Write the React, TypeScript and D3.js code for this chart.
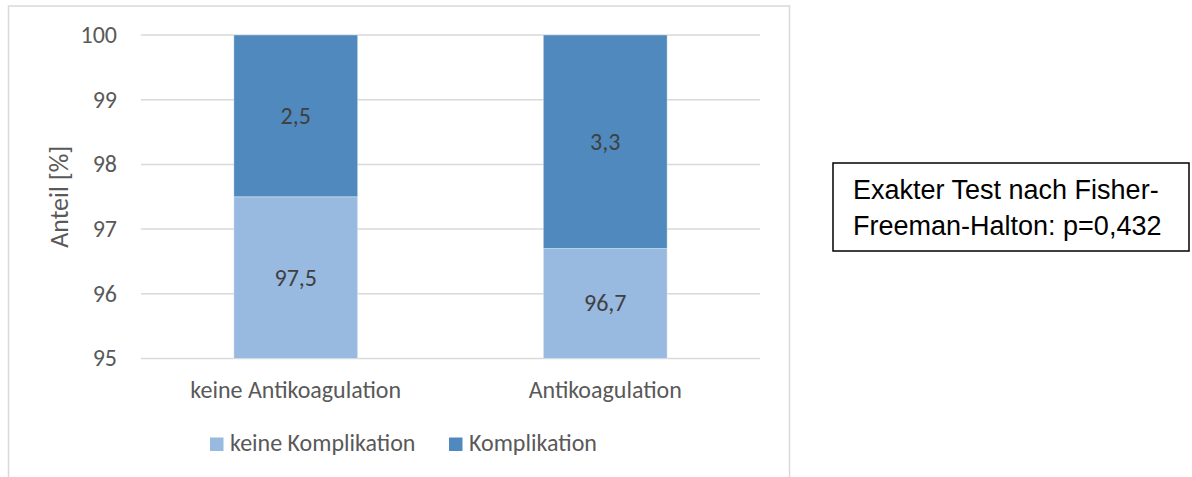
import React from "react";
import * as d3 from "d3";

// Stacked shares (%) per group
const categories = ["keine Antikoagulation", "Antikoagulation"];
const keineKomplikation = [97.5, 96.7];
const komplikation = [2.5, 3.3];
const seriesNames = ["keine Komplikation", "Komplikation"];
const seriesColors = ["#98B9E0", "#4F89BD"];
const yTicks = [95, 96, 97, 98, 99, 100];
const noteLines = ["Exakter Test nach Fisher-", "Freeman-Halton: p=0,432"];

const W = 1192;
const H = 477;
const plot = { left: 141, right: 760, top: 35, bottom: 358.5 };
const axisFont = "Calibri, Carlito, 'Open Sans', sans-serif";
const textGray = "#595959";
const fs = 24;

export default function App() {
  const x = d3
    .scaleBand<string>()
    .domain(categories)
    .range([plot.left, plot.right])
    .paddingInner(0.6)
    .paddingOuter(0.3);
  const y = d3.scaleLinear().domain([95, 100]).range([plot.bottom, plot.top]);

  const rows = categories.map((c, i) => ({
    category: c,
    keine: keineKomplikation[i],
    kompl: komplikation[i],
  }));
  const stack = d3.stack<any>().keys(["keine", "kompl"]);
  const layers = stack(rows);
  const fmt = (v: number) => v.toFixed(1).replace(".", ",");

  return (
    <svg
      width={W}
      height={H}
      style={{ position: "absolute", left: 0, top: 0, background: "#fff" }}
      fontFamily={axisFont}
    >
      {/* chart frame */}
      <rect x={8.5} y={6} width={781} height={490} fill="#fff" stroke="#d9d9d9" strokeWidth={1.5} />

      {/* gridlines and y tick labels */}
      {yTicks.map((t) => (
        <g key={t}>
          <line x1={plot.left} x2={plot.right} y1={y(t)} y2={y(t)} stroke="#d9d9d9" strokeWidth={1.5} />
          <text x={117} y={y(t)} dy="0.33em" textAnchor="end" fontSize={fs} fill={textGray}>
            {t}
          </text>
        </g>
      ))}

      {/* y axis title */}
      <text
        transform={`translate(59,${(plot.top + plot.bottom) / 2}) rotate(-90)`}
        textAnchor="middle"
        dy="0.33em"
        fontSize={26}
        fill={textGray}
      >
        Anteil [%]
      </text>

      {/* stacked bars, clipped to the axis range */}
      {layers.map((layer, li) =>
        layer.map((d, i) => {
          const y0 = Math.max(d[0], 95);
          const y1 = Math.min(d[1], 100);
          const top = y(y1);
          const bottom = y(y0);
          return (
            <g key={`${li}-${i}`}>
              <rect
                x={x(categories[i])!}
                y={top}
                width={x.bandwidth()}
                height={bottom - top}
                fill={seriesColors[li]}
                stroke="#ffffff"
                strokeOpacity={0.35}
                strokeWidth={1}
              />
              <text
                x={x(categories[i])! + x.bandwidth() / 2}
                y={(top + bottom) / 2}
                dy="0.33em"
                textAnchor="middle"
                fontSize={fs}
                fill="#404040"
              >
                {fmt(li === 0 ? keineKomplikation[i] : komplikation[i])}
              </text>
            </g>
          );
        })
      )}

      {/* category labels */}
      {categories.map((c) => (
        <text
          key={c}
          x={x(c)! + x.bandwidth() / 2}
          y={390}
          dy="0.33em"
          textAnchor="middle"
          fontSize={fs}
          fill={textGray}
        >
          {c}
        </text>
      ))}

      {/* legend */}
      {seriesNames.map((s, i) => {
        const lx = [210, 449][i];
        return (
          <g key={s}>
            <rect x={lx} y={437.5} width={13.5} height={13.5} fill={seriesColors[i]} />
            <text x={lx + 20} y={443} dy="0.33em" fontSize={fs} fill={textGray}>
              {s}
            </text>
          </g>
        );
      })}

      {/* test result note */}
      <rect x={833} y={163} width={356} height={88} fill="#fff" stroke="#000" strokeWidth={1.5} />
      {noteLines.map((l, i) => (
        <text
          key={i}
          x={853}
          y={199 + i * 36}
          fontFamily="Arial, 'Liberation Sans', sans-serif"
          fontSize={27}
          fill="#000"
        >
          {l}
        </text>
      ))}
    </svg>
  );
}
